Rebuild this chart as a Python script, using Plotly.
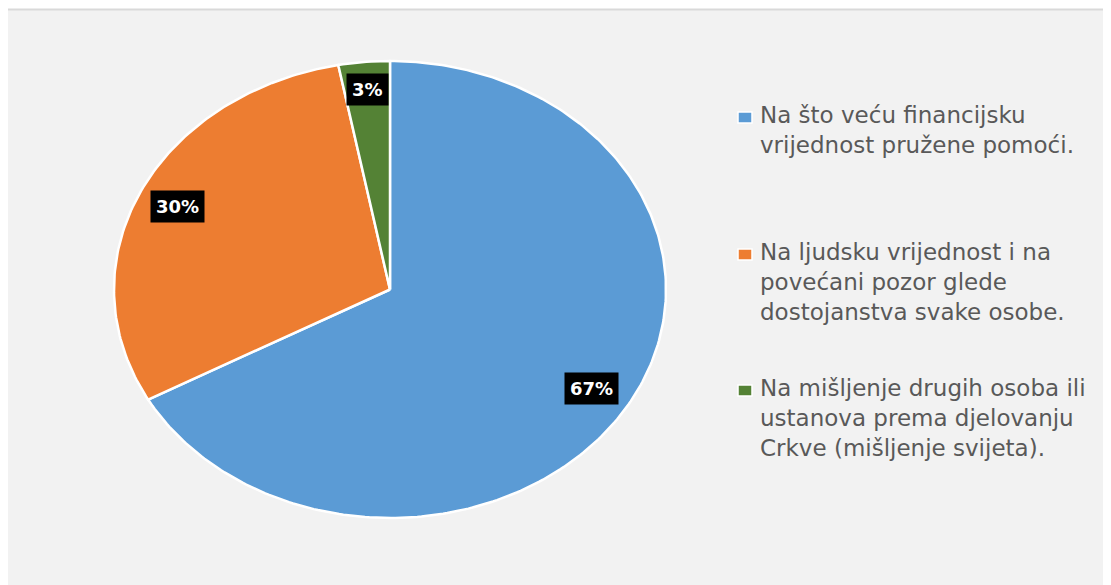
import numpy as np
import plotly.graph_objects as go

categories = [
    "Na što veću financijsku<br>vrijednost pružene pomoći.",
    "Na ljudsku vrijednost i na<br>povećani pozor glede<br>dostojanstva svake osobe.",
    "Na mišljenje drugih osoba ili<br>ustanova prema djelovanju<br>Crkve (mišljenje svijeta).",
]
values = [67, 30, 3]
colors = ["#5b9bd5", "#ed7d31", "#548235"]

W, H = 1111, 585
OFF = 8  # page body margin
cx, cy, rx, ry = 390, 289.5, 276, 228.5

fig = go.Figure()
total = sum(values)
start = 0.0
label_pos = []
for cat, v, c in zip(categories, values, colors):
    frac = v / total
    th = np.linspace(start, start + frac, max(3, int(frac * 400))) * 2 * np.pi
    xs = np.concatenate([[cx], cx + rx * np.sin(th), [cx]])
    ys = np.concatenate([[cy], cy - ry * np.cos(th), [cy]])
    fig.add_trace(go.Scatter(x=xs, y=ys, mode="lines", fill="toself", fillcolor=c,
                             line=dict(color="white", width=2.5), name=cat.replace("<br>", " "),
                             hoverinfo="name", showlegend=False))
    mid = (start + frac / 2) * 2 * np.pi
    rf = 0.85 if frac > 0.1 else 0.88
    label_pos.append((cx + rf * rx * np.sin(mid), cy - rf * ry * np.cos(mid), f"{round(v / total * 100)}%"))
    start += frac

# background panel
fig.add_shape(type="rect", xref="x", yref="y", x0=7, y0=9.5, x1=W + 10, y1=H + 10,
              fillcolor="#f2f2f2", line=dict(color="#d9d9d9", width=2), layer="below")

for x, y, t in label_pos:
    fig.add_annotation(x=x, y=y, xref="x", yref="y", text=f"<b>{t}</b>", showarrow=False,
                       bgcolor="black", borderpad=5,
                       font=dict(family="DejaVu Sans", size=18, color="white"))

# legend (manual)
leg_y = [108, 245, 381]
for cat, c, y in zip(categories, colors, leg_y):
    fig.add_shape(type="rect", xref="x", yref="y", x0=738, x1=752, y0=y + 4, y1=y + 15,
                  fillcolor=c, line=dict(color="white", width=1.5))
    fig.add_annotation(x=758, y=y - 8, xref="x", yref="y", text=cat, showarrow=False,
                       xanchor="left", yanchor="top", align="left",
                       font=dict(family="DejaVu Sans", size=23, color="#595959"))

fig.update_layout(
    width=W - OFF, height=H - OFF, margin=dict(l=0, r=0, t=0, b=0),
    paper_bgcolor="white", plot_bgcolor="rgba(0,0,0,0)",
    xaxis=dict(range=[OFF, W], visible=False, fixedrange=True),
    yaxis=dict(range=[H, OFF], visible=False, fixedrange=True),
    showlegend=False,
)
fig.write_html("out.html")
